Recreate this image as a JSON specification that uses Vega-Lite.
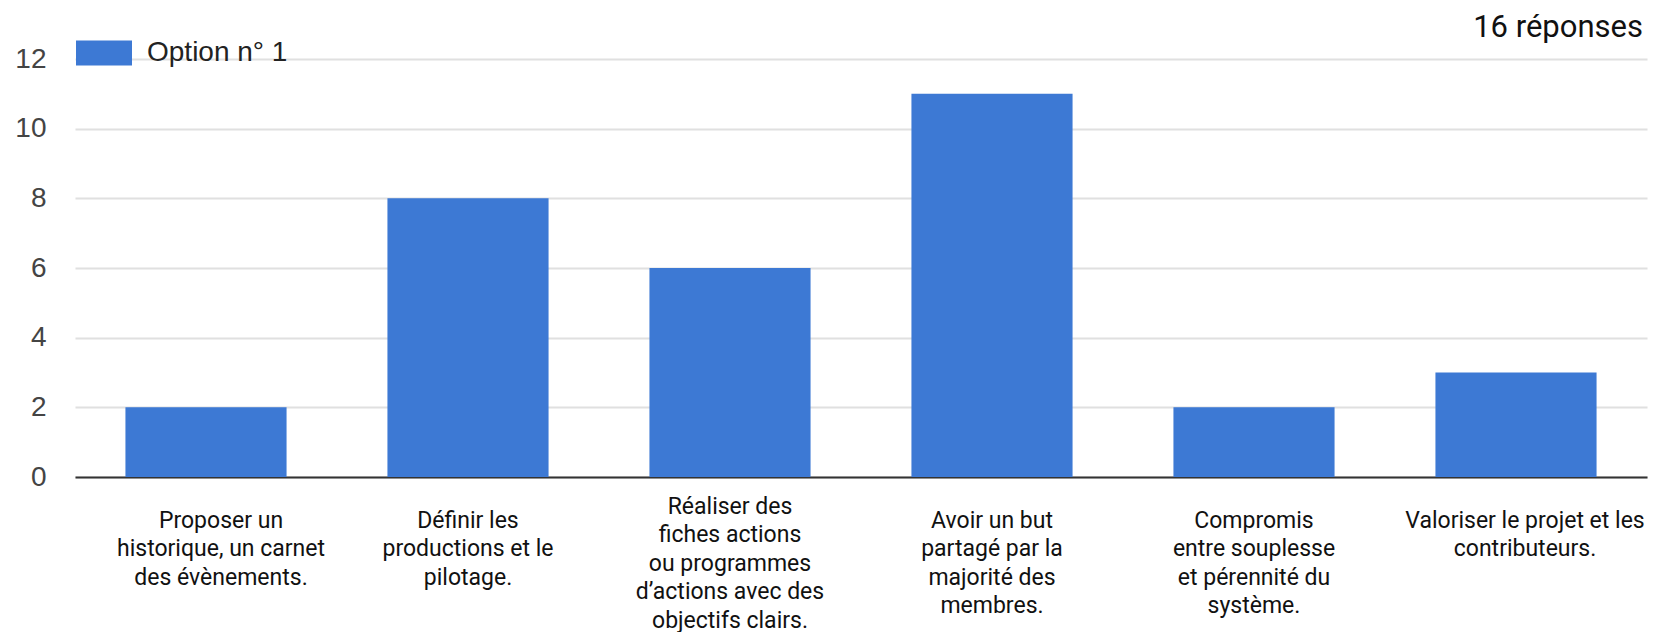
{
  "$schema": "https://vega.github.io/schema/vega-lite/v6.json",
  "autosize": {"type": "none"},
  "padding": {"left": 75, "top": 59, "right": 8, "bottom": 155},
  "width": 1572,
  "height": 418,
  "background": "white",
  "title": {
    "text": "16 réponses",
    "anchor": "end",
    "frame": "group",
    "font": "Roboto",
    "fontSize": 31,
    "fontWeight": "normal",
    "color": "#111111",
    "baseline": "alphabetic",
    "offset": -43,
    "dx": -4
  },
  "data": {
    "values": [
      {"critere": "Proposer un|historique, un carnet|des évènements.", "reponses": 2, "serie": "Option n° 1"},
      {"critere": "Définir les|productions et le|pilotage.", "reponses": 8, "serie": "Option n° 1"},
      {"critere": "Réaliser des|fiches actions|ou programmes|d’actions avec des|objectifs clairs.", "reponses": 6, "serie": "Option n° 1"},
      {"critere": "Avoir un but|partagé par la|majorité des|membres.", "reponses": 11, "serie": "Option n° 1"},
      {"critere": "Compromis|entre souplesse|et pérennité du|système.", "reponses": 2, "serie": "Option n° 1"},
      {"critere": "Valoriser le projet et les|contributeurs.", "reponses": 3, "serie": "Option n° 1"}
    ]
  },
  "mark": {"type": "bar"},
  "encoding": {
    "x": {
      "field": "critere",
      "type": "nominal",
      "sort": null,
      "title": null,
      "scale": {"paddingInner": 0.385, "paddingOuter": 0.1925},
      "axis": {
        "labelAngle": 0,
        "labelExpr": "split(datum.label, '|')",
        "labelFont": "Roboto",
        "labelFontSize": 23,
        "labelLineHeight": 28.5,
        "labelColor": "#111111",
        "labelBaseline": "top",
        "labelLimit": 400,
        "labelPadding": {"condition": {"test": "indexof(datum.value, 'Réaliser') >= 0", "value": 18}, "value": 32},
        "labelOffset": {"condition": [{"test": "indexof(datum.value, 'Proposer') >= 0", "value": 15}, {"test": "indexof(datum.value, 'Valoriser') >= 0", "value": 9}], "value": 0},
        "ticks": false,
        "tickSize": 0,
        "domainColor": "#333333",
        "domainWidth": 2,
        "grid": false
      }
    },
    "y": {
      "field": "reponses",
      "type": "quantitative",
      "title": null,
      "scale": {"domain": [0, 12], "nice": false},
      "axis": {
        "values": [0, 2, 4, 6, 8, 10, 12],
        "labelFont": "Liberation Sans",
        "labelFontSize": 28,
        "labelColor": "#444444",
        "labelPadding": 29,
        "ticks": false,
        "tickSize": 0,
        "domain": false,
        "grid": true,
        "gridColor": "#e0e0e0",
        "gridWidth": 2
      }
    },
    "color": {
      "field": "serie",
      "type": "nominal",
      "scale": {"range": ["#3d79d4"]},
      "legend": {
        "title": null,
        "orient": "none",
        "legendX": 1,
        "legendY": -34,
        "padding": 0,
        "symbolType": "M-1,-0.446H1V0.446H-1Z",
        "symbolSize": 3136,
        "symbolStrokeWidth": 0,
        "symbolOpacity": 1,
        "labelFont": "Liberation Sans",
        "labelFontSize": 28,
        "labelColor": "#222222",
        "labelOffset": 15
      }
    }
  },
  "config": {
    "view": {"stroke": null}
  }
}
